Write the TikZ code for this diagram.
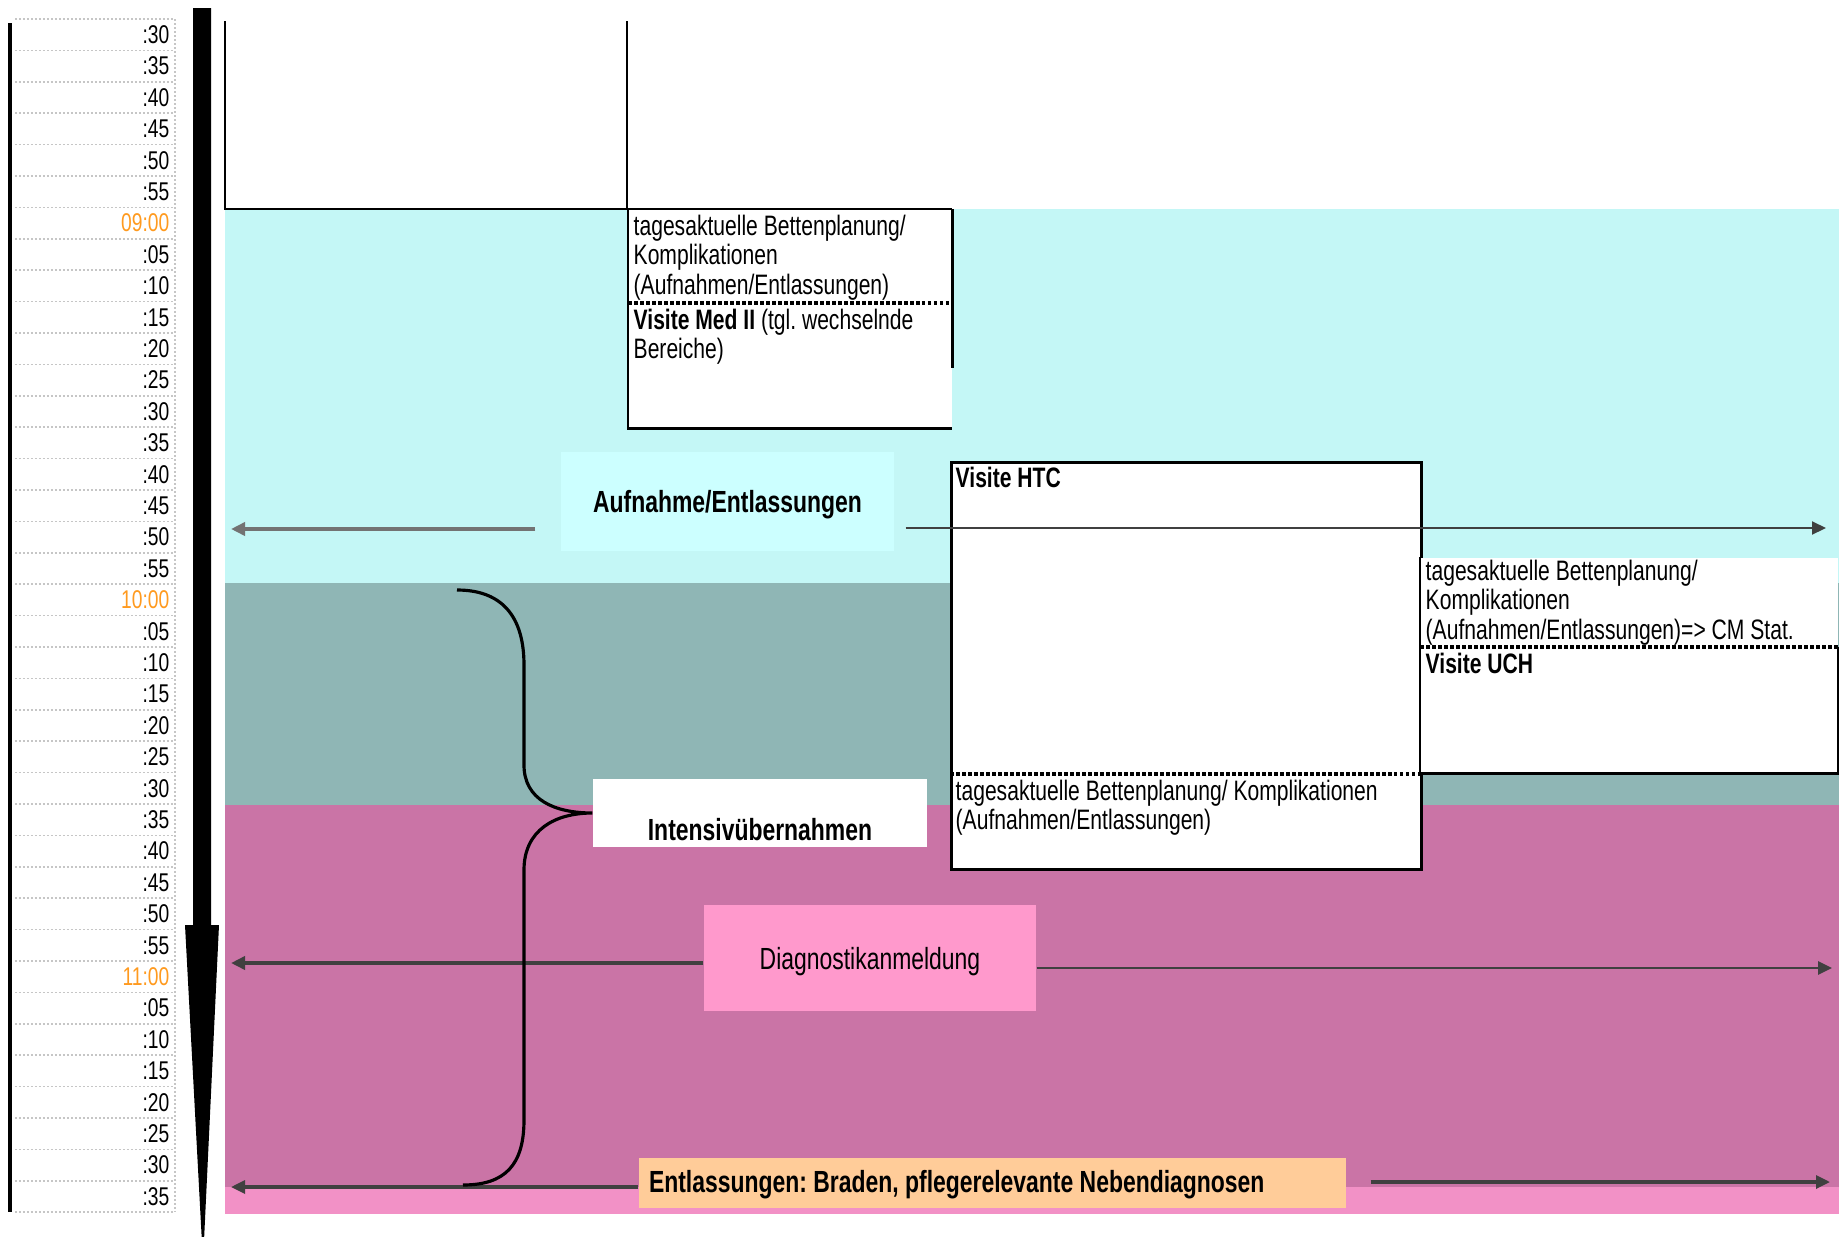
\documentclass[tikz,border=0pt]{standalone}
\usepackage{fontspec}
\setmainfont{Liberation Sans}[FakeStretch=0.75]
\usepackage{tikz}
\usetikzlibrary{positioning,arrows.meta}
\definecolor{bgcyan}{HTML}{C4F7F6}
\definecolor{bgteal}{HTML}{8FB6B5}
\definecolor{bgpink}{HTML}{CA74A6}
\definecolor{bglight}{HTML}{F291C6}
\definecolor{aufncyan}{HTML}{CCFFFF}
\definecolor{diagpink}{HTML}{FF99CC}
\definecolor{entlorange}{HTML}{FFCC99}
\definecolor{tickorange}{HTML}{FF9A1F}
\frenchspacing

\begin{document}
\begin{tikzpicture}[
  x=0.1mm, y=-0.1mm,
  tick/.style={anchor=east, inner sep=0pt, font=\fontsize{7.3}{8}\selectfont},
  tickline/.style={gray!45, line width=0.45pt, dash pattern=on 0.2mm off 0.2mm},
  lane/.style={line width=0.8pt},
  sepline/.style={line width=0.9pt, dash pattern=on 0.35mm off 0.25mm},
  ]
  \tikzset{%
    boxtext/.style={
      anchor=north west,
      align=flush left,
      inner sep=0.5mm,
      font=\fontsize{8}{8.4}\selectfont,
    },
    bigtext/.style={font=\bfseries\fontsize{8.7}{9}\selectfont},
    flow/.style={-{Triangle[length=1.4mm,width=1.3mm]}, line width=0.9pt, black!75},
  }
  \useasboundingbox (0,0) rectangle (1839,1237);
  %Background
  \fill[bgcyan] (225,209) rectangle (1839,583);
  \fill[bgteal] (225,583) rectangle (1839,805);
  \fill[bgpink] (225,805) rectangle (1839,1187);
  \fill[bglight] (225,1187) rectangle (1839,1214);
  %Time scale
  \draw[line width=1.1pt] (10,23) -- (10,1212);
  \foreach \i in {0,...,38}
    \draw[tickline] (15,{19+31.4*\i}) -- (173,{19+31.4*\i});
  \draw[tickline] (175,19) -- (175,1212);
  \foreach \i in {0,...,37}{
    \pgfmathtruncatemacro\mm{mod(30+5*\i,60)}
    \edef\hh{\the\numexpr 8+(30+5*\i-\mm)/60\relax}
    \ifnum\mm=0
      \node[tick, text=tickorange] (t\i) at (170,{34.7+31.4*\i}) {\ifnum\hh<10 0\fi\hh:00};
    \else
      \node[tick] (t\i) at (170,{34.7+31.4*\i}) {:\ifnum\mm<10 0\fi\mm};
    \fi
  }
  \fill (193,8) -- (211,8) -- (211,925) -- (219,925) -- (203,1262) -- (185,925) -- (193,925) -- cycle;
  %Lanes
  \draw[lane] (225,21) -- (225,209) -- (628,209);
  \draw[lane] (627,21) -- (627,209);
  %Nodes
  \node[fill=white, anchor=north west, inner sep=0pt, minimum width=32.3mm, minimum height=21.8mm] (med) at (628,209) {};
  \coordinate (medsep) at (628,303);
  \draw[lane] (med.north east) -- (med.north west) -- (med.south west) -- (med.south east);
  \draw[lane] (med.north east) -- ++(0,159);
  \draw[sepline] (medsep) -- (medsep -| med.east);
  \node[boxtext] (medplan) at (med.north west) {tagesaktuelle Bettenplanung/\\Komplikationen\\(Aufnahmen/Entlassungen)};
  \node[boxtext] (medvis) at (medsep) {\textbf{Visite Med II} (tgl. wechselnde\\Bereiche)};

  \node[fill=white, draw, lane, anchor=north west, inner sep=0pt, minimum width=47mm, minimum height=40.7mm] (htc) at (950,461) {};
  \coordinate (htcsep) at (950,774);
  \draw[sepline] (htcsep) -- (htcsep -| htc.east);
  \node[boxtext] (htcvis) at (htc.north west) {\textbf{Visite HTC}};
  \node[boxtext] (htcplan) at (htcsep) {tagesaktuelle Bettenplanung/ Komplikationen\\(Aufnahmen/Entlassungen)};

  \node[fill=white, anchor=north west, inner sep=0pt, minimum width=41.7mm, minimum height=21.5mm] (uch) at (1420,557) {};
  \coordinate (uchsep) at (1420,647);
  \draw[lane] (uch.north west) -- (uch.south west) -- (uch.south east) -- (uch.east |- uchsep);
  \draw[sepline] (uchsep) -- (uchsep -| uch.east);
  \node[boxtext, yshift=0.3mm] (uchplan) at (uch.north west) {tagesaktuelle Bettenplanung/\\Komplikationen\\(Aufnahmen/Entlassungen)=> CM Stat.};
  \node[boxtext] (uchvis) at (uchsep) {\textbf{Visite UCH}};

  \node[fill=aufncyan, bigtext, text depth=0pt, minimum width=33.3mm, minimum height=9.9mm] (aufn) at (727.5,501.5) {Aufnahme/Entlassungen};
  \node[fill=white, bigtext, inner ysep=0pt, text height=6.1mm, text depth=0.7mm, minimum width=33.4mm, minimum height=6.8mm] (intens) at (760,813) {Intensivübernahmen};
  \node[fill=diagpink, font=\fontsize{8.7}{9}\selectfont, text depth=0pt, minimum width=33.2mm, minimum height=10.6mm] (diag) at (870,958) {Diagnostikanmeldung};
  \node[fill=entlorange, bigtext, align=flush left, inner xsep=1mm, text width=68.7mm, minimum height=5mm, text depth=0.3mm] (entl) at (992.5,1183) {Entlassungen: Braden, pflegerelevante Nebendiagnosen};
  %Lines
  \coordinate (aufnL) at (231,529);
  \coordinate (aufnR) at (1826,528);
  \coordinate (diagL) at (231,963);
  \coordinate (diagR) at (1832,968);
  \coordinate (entlL) at (231,1187);
  \coordinate (entlR) at (1830,1182);
  \coordinate (braceTop) at (457,590);
  \coordinate (braceBot) at (463,1185);
  \draw[flow, black!55, line width=1.3pt] (aufn.west |- aufnL) ++(-25,0) -- (aufnL);
  \draw[flow, line width=0.6pt] (aufn.east |- aufnR) ++(11,0) -- (aufnR);
  \draw[flow, line width=1.1pt] (diag.west |- diagL) -- (diagL);
  \draw[flow, line width=0.8pt] (diag.east |- diagR) -- (diagR);
  \draw[flow] (entl.west |- entlL) -- (entlL);
  \draw[flow] (entl.east |- entlR) ++(24,0) -- (entlR);
  % Brace
  \draw[line width=0.9pt] (braceTop) .. controls (505,590) and (524,620) .. (524,665)
    -- (524,765) .. controls (524,800) and (555,813) .. (intens.west)
    .. controls (555,813) and (524,830) .. (524,870)
    -- (524,1120) .. controls (524,1165) and (505,1185) .. (braceBot);
\end{tikzpicture}
\end{document}
